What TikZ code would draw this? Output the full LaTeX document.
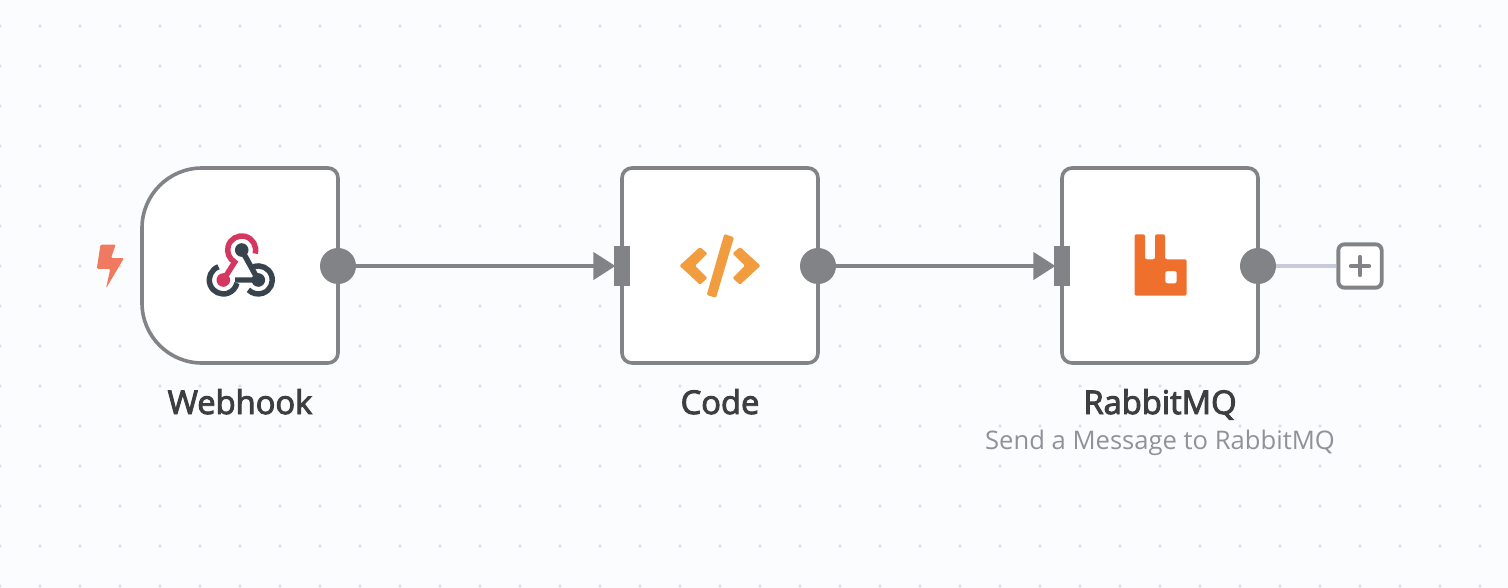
\documentclass[tikz,border=0pt]{standalone}
\usepackage{fontspec}
\setmainfont{Open Sans}
\newfontfamily\titlefont[FakeBold=3]{Open Sans}
\usetikzlibrary{arrows.meta}
\definecolor{bgc}{HTML}{FBFCFE}
\definecolor{dotc}{HTML}{DDE0EC}
\definecolor{linec}{HTML}{828387}
\definecolor{addc}{HTML}{C6CADA}
\definecolor{titlec}{HTML}{3D3E40}
\definecolor{subc}{HTML}{909299}
\definecolor{boltc}{HTML}{F07A60}
\definecolor{pinkc}{HTML}{D63761}
\definecolor{darkc}{HTML}{37444D}
\definecolor{codec}{HTML}{F29C40}
\definecolor{rabbitc}{HTML}{EE702C}
\tikzset{
  x=0.75pt,y=-0.75pt,
  nodebox/.style={draw=linec,line width=2.7pt,fill=white,rounded corners=7.5pt,minimum width=147pt,minimum height=146.25pt,inner sep=0pt},
  anchorbox/.style={minimum width=147pt,minimum height=146.25pt,inner sep=0pt},
  outdot/.style={circle,fill=linec,minimum size=27pt,inner sep=0pt},
  inbar/.style={rectangle,fill=linec,minimum width=12pt,minimum height=30pt,inner sep=0pt},
  conn/.style={draw=linec,line width=2.6pt,-{Triangle[length=16.5pt,width=20.5pt]},shorten >=-1.2pt},
  addline/.style={draw=addc,line width=2.6pt},
  addbox/.style={draw=linec,line width=2.9pt,fill=white,rounded corners=4.5pt,minimum size=32.5pt,inner sep=0pt},
  title/.style={font=\titlefont\fontsize{24.5}{24.5}\selectfont,text=titlec,anchor=base,inner sep=0pt},
  subtitle/.style={font=\fontsize{19.2}{19.2}\selectfont,text=subc,anchor=base,inner sep=0pt},
  ring/.style={line width=4.1pt}
}
\begin{document}
\begin{tikzpicture}
\useasboundingbox (0,0) rectangle (1508,588);
\fill[bgc] (0,0) rectangle (1508,588);
\begin{scope}
\clip (0,0) rectangle (1508,588);
\foreach \i in {0,...,37}{\foreach \j in {0,...,14}{\fill[dotc] (40*\i,26+40*\j) circle (1.9);}}
\end{scope}

% node boxes
\node[anchorbox] (wh) at (240,265.5) {};
\draw[draw=linec,line width=2.7pt,fill=white]
  (202,168) -- (328,168) arc[start angle=-90,end angle=0,radius=10] -- (338,353)
  arc[start angle=0,end angle=90,radius=10] -- (202,363)
  arc[start angle=90,end angle=180,radius=60] -- (142,228)
  arc[start angle=180,end angle=270,radius=60] -- cycle;
\node[nodebox] (code) at (720,265.5) {};
\node[nodebox] (rmq) at (1160,265.5) {};

% ports
\node[outdot] (o1) at (338,266) {};
\node[outdot] (o2) at (818,266) {};
\node[outdot] (o3) at (1258,266) {};
\node[inbar] (i2) at (622,266) {};
\node[inbar] (i3) at (1062,266) {};
\node[addbox] (add) at (1360,266) {};

% connectors
\draw[conn] (o1) -- (i2.west);
\draw[conn] (o2) -- (i3.west);
\draw[addline] (o3) -- (add);
\draw[linec,line width=3.2pt,line cap=round] (1351,266) -- (1369,266) (1360,257) -- (1360,275);

% trigger bolt
\fill[boltc,rounded corners=1pt] (100.5,244.5) -- (115.8,244.5) -- (111,258) -- (124,258) -- (106,288.5) -- (110.3,268.8) -- (96.8,268.8) -- cycle;

% webhook icon
\draw[pinkc,ring] (255.2,253.6) arc[start angle=15,end angle=-240,radius=14] -- (223.3,280);
\fill[pinkc] (223.3,280) circle (6.8);
\draw[darkc,ring] (218.5,266.8) arc[start angle=-110,end angle=-347,radius=14];
\draw[darkc,ring] (253.5,266.8) arc[start angle=-110,end angle=135,radius=14];
\draw[darkc,ring] (241.7,250) -- (258.3,280) -- (235,280);
\fill[darkc] (241.7,250) circle (6.8) (258.3,280) circle (6.8);

% code icon
\fill[codec,rounded corners=1pt] (679.5,265.7) -- (700,247) -- (707.5,253.5) -- (695,265.7) -- (707.5,278) -- (700,284.7) -- cycle;
\fill[codec,rounded corners=1pt] (760.5,265.7) -- (740,247) -- (732.5,253.5) -- (745,265.7) -- (732.5,278) -- (740,284.7) -- cycle;
\fill[codec,rounded corners=1pt] (724.3,234) -- (734,237.3) -- (716,297.7) -- (706.7,295) -- cycle;

% rabbit icon
\fill[rabbitc,even odd rule,rounded corners=1.5pt]
  (1134.5,234.3) -- (1145,234.3) -- (1145,259.3) -- (1155,259.3) -- (1155,234.3) -- (1165,234.3) -- (1165,259.3) -- (1186.7,259.3) -- (1186.7,295.7) -- (1134.5,295.7) -- cycle
  (1165.3,271) -- (1176.7,271) -- (1176.7,283.3) -- (1165.3,283.3) -- cycle;

% labels
\node[title] (t1) at (240,414) {Webhook};
\node[title] (t2) at (720,414) {Code};
\node[title] (t3) at (1160,414) {RabbitMQ};
\node[subtitle] (s3) at (1160,449) {Send a Message to RabbitMQ};
\end{tikzpicture}
\end{document}
